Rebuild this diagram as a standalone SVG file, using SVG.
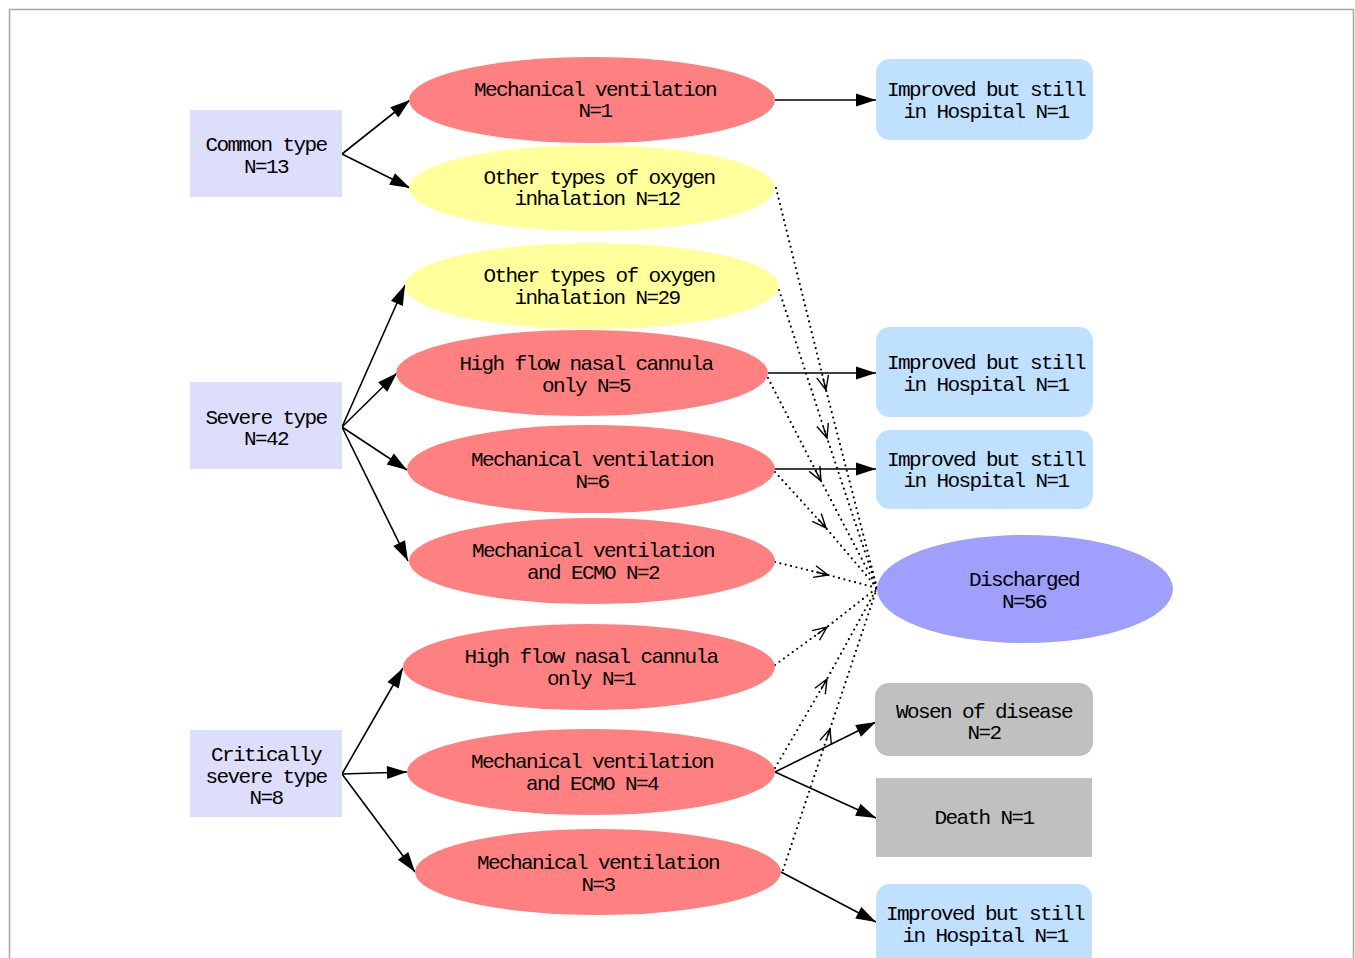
<svg xmlns="http://www.w3.org/2000/svg" width="1355" height="958" viewBox="0 0 1355 958">
<style>
text{font-family:"Liberation Mono","DejaVu Sans Mono",monospace;font-size:21px;letter-spacing:-1.6px;text-anchor:middle;fill:#000}
.type{fill:#ddddfc}
.red{fill:#ff8080}
.yel{fill:#ffff9c}
.blue{fill:#c0e0ff}
.grey{fill:#c0c0c0}
.dis{fill:#9f9ffe}
.solid{stroke:#000;stroke-width:1.6;fill:none;marker-end:url(#ah)}
.dot{stroke:#000;stroke-width:2.2;fill:none;stroke-dasharray:0 5.5;stroke-linecap:round;marker-mid:url(#vee)}
</style>
<defs>
<marker id="ah" markerUnits="userSpaceOnUse" markerWidth="22" markerHeight="14" refX="20" refY="6.5" orient="auto" overflow="visible">
<path d="M0,0 L20,6.5 L0,13 z" fill="#000"/>
</marker>
<marker id="vee" markerUnits="userSpaceOnUse" markerWidth="16" markerHeight="14" refX="8" refY="6" orient="auto" overflow="visible">
<path d="M-6,0 L8,6 L-6,12 M-4,6 L8,6" fill="none" stroke="#000" stroke-width="1.4"/>
</marker>
</defs>
<rect width="1355" height="958" fill="#fff"/>
<path d="M9.5,958 V9.5 H1353.5 V958" fill="none" stroke="#a8a8a8" stroke-width="1.5"/>

<g id="connectors">
<path class="solid" d="M342,154 L410,100"/>
<path class="solid" d="M342,154 L410,188"/>
<path class="solid" d="M342,427 L405,285"/>
<path class="solid" d="M342,427 L397,373"/>
<path class="solid" d="M342,427 L407,470"/>
<path class="solid" d="M342,427 L408,561"/>
<path class="solid" d="M342,774 L403,668"/>
<path class="solid" d="M342,774 L407,772"/>
<path class="solid" d="M342,774 L415,872"/>
<path class="solid" d="M775,100 L876,100"/>
<path class="solid" d="M768,373 L876,373"/>
<path class="solid" d="M775,469 L876,469"/>
<path class="solid" d="M775,772 L876,722"/>
<path class="solid" d="M775,772 L876,818"/>
<path class="solid" d="M781,872 L876,922"/>
<path class="dot" d="M776,188 L826,390 L877,588"/>
<path class="dot" d="M779,290 L827,438 L877,588"/>
<path class="dot" d="M768,378 L821,481 L877,588"/>
<path class="dot" d="M775,472 L826,528 L877,588"/>
<path class="dot" d="M775,562 L828,575 L877,588"/>
<path class="dot" d="M775,665 L827,627 L877,588"/>
<path class="dot" d="M775,768 L827,679 L877,588"/>
<path class="dot" d="M783,870 L830,729 L877,588"/>
</g>

<g id="common">
<rect class="type" x="190" y="110" width="152" height="87"/>
<text x="266" y="151">Common type</text>
<text x="266" y="173">N=13</text>
</g>
<g id="severe">
<rect class="type" x="190" y="382" width="152" height="87"/>
<text x="266" y="424">Severe type</text>
<text x="266" y="445">N=42</text>
</g>
<g id="critical">
<rect class="type" x="190" y="730" width="152" height="87"/>
<text x="266" y="761">Critically</text>
<text x="266" y="783">severe type</text>
<text x="266" y="804">N=8</text>
</g>

<g id="mv1">
<ellipse class="red" cx="592" cy="100" rx="183" ry="43"/>
<text x="595" y="96">Mechanical ventilation</text>
<text x="595" y="117">N=1</text>
</g>
<g id="ox12">
<ellipse class="yel" cx="592" cy="188" rx="183" ry="43"/>
<text x="599" y="184">Other types of oxygen</text>
<text x="597" y="205">inhalation N=12</text>
</g>
<g id="ox29">
<ellipse class="yel" cx="592" cy="286" rx="187" ry="43"/>
<text x="599" y="282">Other types of oxygen</text>
<text x="597" y="304">inhalation N=29</text>
</g>
<g id="hfnc5">
<ellipse class="red" cx="582" cy="373" rx="186" ry="43"/>
<text x="586" y="370">High flow nasal cannula</text>
<text x="586" y="392">only N=5</text>
</g>
<g id="mv6">
<ellipse class="red" cx="591" cy="469" rx="184" ry="44"/>
<text x="592" y="466">Mechanical ventilation</text>
<text x="592" y="488">N=6</text>
</g>
<g id="ecmo2">
<ellipse class="red" cx="592" cy="561" rx="183" ry="43"/>
<text x="593" y="557">Mechanical ventilation</text>
<text x="593" y="579">and ECMO N=2</text>
</g>
<g id="hfnc1">
<ellipse class="red" cx="589" cy="667" rx="186" ry="43"/>
<text x="591" y="663">High flow nasal cannula</text>
<text x="591" y="685">only N=1</text>
</g>
<g id="ecmo4">
<ellipse class="red" cx="591" cy="772" rx="184" ry="43"/>
<text x="592" y="768">Mechanical ventilation</text>
<text x="592" y="790">and ECMO N=4</text>
</g>
<g id="mv3">
<ellipse class="red" cx="598" cy="872" rx="183" ry="43"/>
<text x="598" y="869">Mechanical ventilation</text>
<text x="598" y="891">N=3</text>
</g>

<g id="imp1">
<rect class="blue" x="876" y="59" width="217" height="81" rx="14"/>
<text x="986" y="96">Improved but still</text>
<text x="986" y="118">in Hospital N=1</text>
</g>
<g id="imp2">
<rect class="blue" x="876" y="327" width="217" height="90" rx="14"/>
<text x="986" y="369">Improved but still</text>
<text x="986" y="391">in Hospital N=1</text>
</g>
<g id="imp3">
<rect class="blue" x="876" y="430" width="217" height="79" rx="14"/>
<text x="986" y="466">Improved but still</text>
<text x="986" y="487">in Hospital N=1</text>
</g>
<g id="discharged">
<ellipse class="dis" cx="1025" cy="589" rx="148" ry="54"/>
<text x="1024" y="586">Discharged</text>
<text x="1024" y="608">N=56</text>
</g>
<g id="worsen">
<rect class="grey" x="875" y="683" width="218" height="73" rx="14"/>
<text x="984" y="718">Wosen of disease</text>
<text x="984" y="739">N=2</text>
</g>
<g id="death">
<rect class="grey" x="876" y="778" width="216" height="79"/>
<text x="984" y="824">Death N=1</text>
</g>
<g id="imp4">
<rect class="blue" x="876" y="884" width="216" height="90" rx="14"/>
<text x="985" y="920">Improved but still</text>
<text x="985" y="942">in Hospital N=1</text>
</g>
</svg>
